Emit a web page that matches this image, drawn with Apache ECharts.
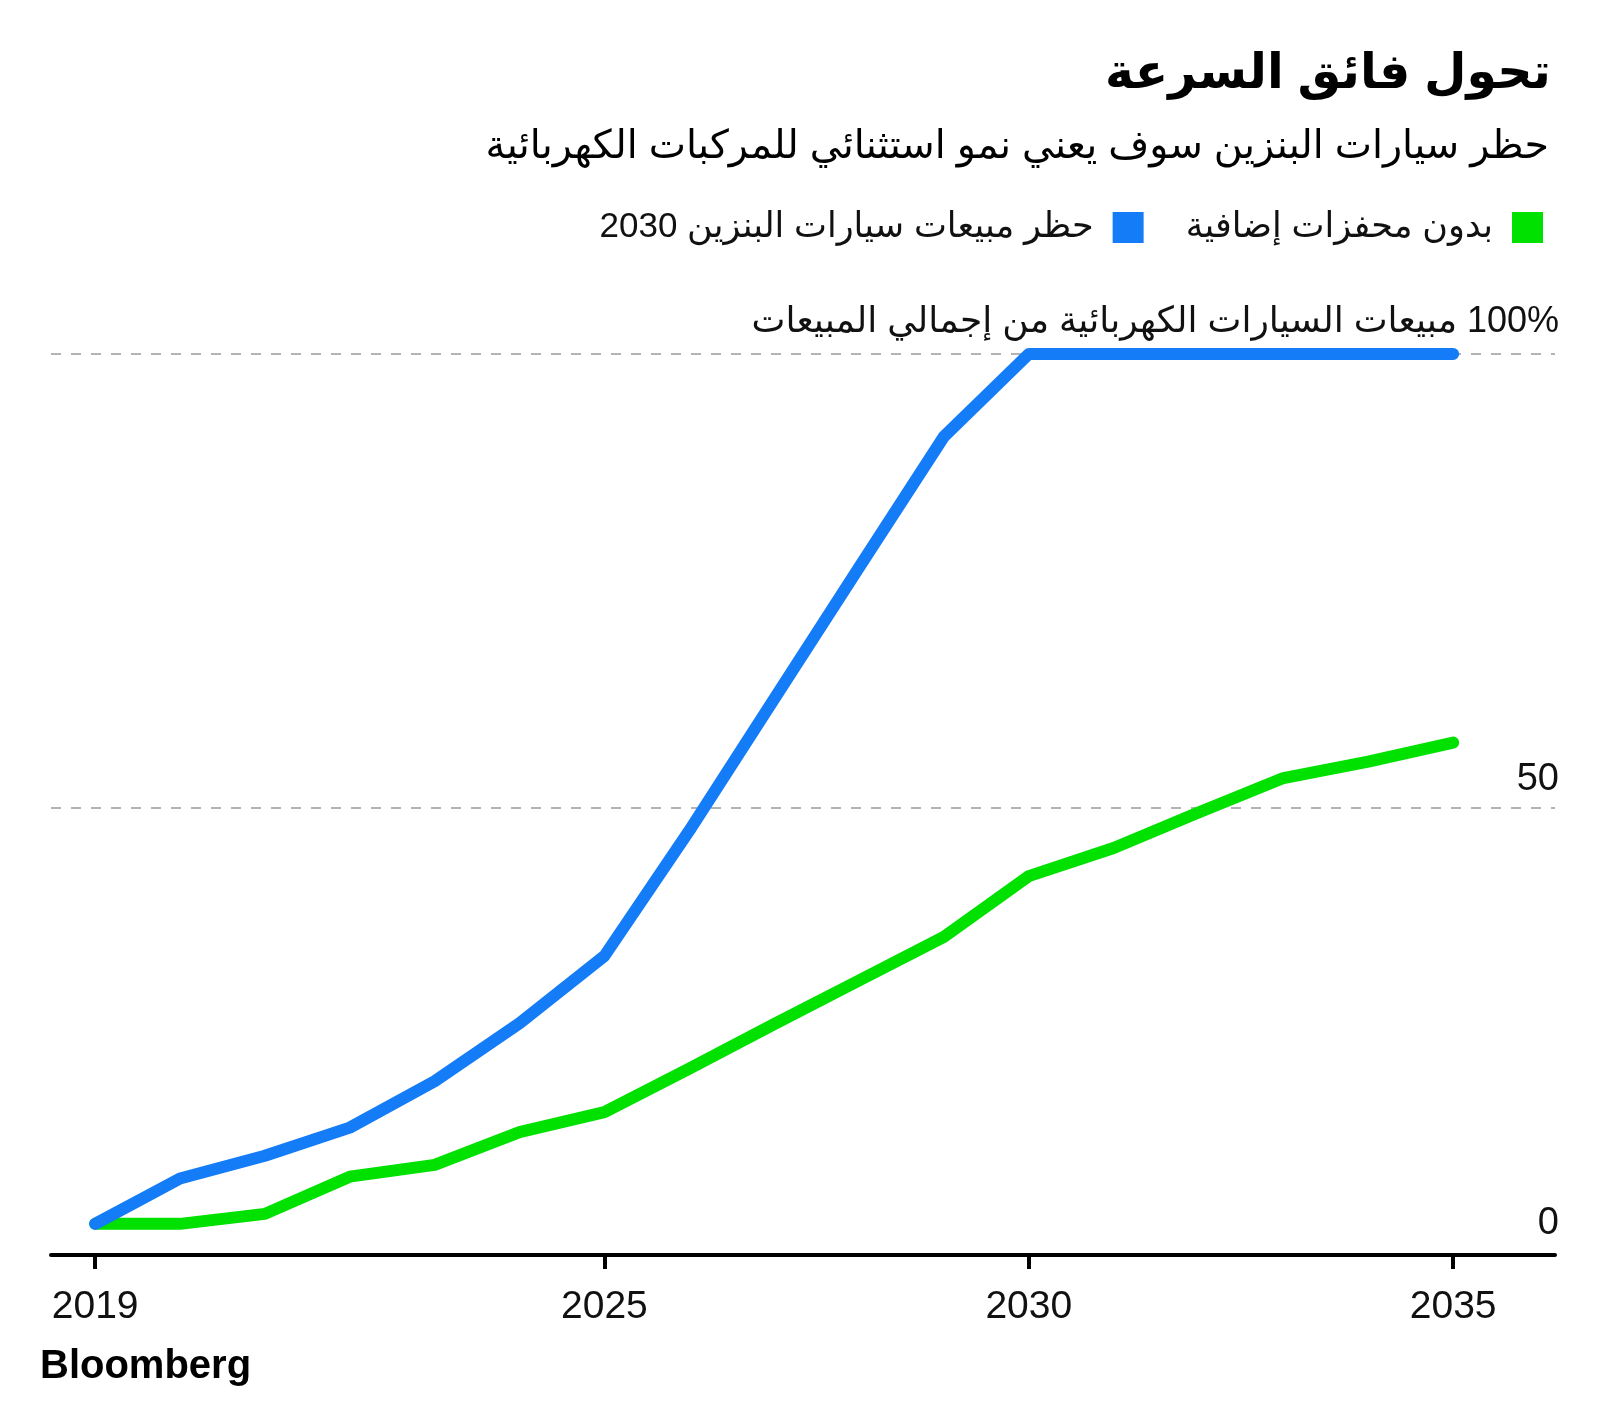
<!DOCTYPE html>
<html>
<head>
<meta charset="utf-8">
<script src="https://cdn.jsdelivr.net/npm/echarts@6/dist/echarts.min.js"></script>
<style>
  html, body { margin: 0; padding: 0; background: #ffffff; }
  #chart { width: 1600px; height: 1406px; direction: rtl; }
</style>
</head>
<body>
<div id="chart" dir="rtl"></div>
<script>
// ---- Data ----
const years = [2019, 2020, 2021, 2022, 2023, 2024, 2025, 2026, 2027, 2028, 2029, 2030, 2031, 2032, 2033, 2034, 2035];
const ban2030 = [4.2, 9.2, 11.7, 14.8, 19.9, 26.3, 33.7, 47.5, 62.0, 76.5, 90.9, 100, 100, 100, 100, 100, 100];
const noIncentives = [4.2, 4.2, 5.3, 9.4, 10.7, 14.3, 16.5, 21.3, 26.2, 31.0, 35.8, 42.5, 45.6, 49.5, 53.3, 55.1, 57.2];
const xTickYears = [2019, 2025, 2030, 2035];
const seriesNames = ['حظر مبيعات سيارات البنزين 2030', 'بدون محفزات إضافية'];
const titleText = 'تحول فائق السرعة';
const subtitleText = 'حظر سيارات البنزين سوف يعني نمو استثنائي للمركبات الكهربائية';
const yUnitText = '100% مبيعات السيارات الكهربائية من إجمالي المبيعات';
const sourceText = 'Bloomberg';

const FONT = '"Liberation Sans", "DejaVu Sans", sans-serif';
const BLUE = '#157cf8';
const GREEN = '#00e100';

const chart = echarts.init(document.getElementById('chart'), null, { renderer: 'canvas' });

const pairs = (vals) => years.map((y, i) => [y, vals[i]]);

chart.setOption({
  animation: false,
  backgroundColor: '#ffffff',
  grid: { left: 51, right: 45, top: 354, bottom: 144, containLabel: false },
  graphic: [
    { type: 'text', x: 1551, y: 74, style: { text: titleText, fill: '#000', font: 'bold 49px ' + FONT, align: 'right', verticalAlign: 'middle' } },
    { type: 'text', x: 1549, y: 147, style: { text: subtitleText, fill: '#000', font: '39.6px ' + FONT, align: 'right', verticalAlign: 'middle' } },
    { type: 'text', x: 40, y: 1367, style: { text: sourceText, fill: '#000', font: 'bold 40px ' + FONT, align: 'left', verticalAlign: 'middle' } }
  ],
  legend: {
    data: [seriesNames[0], seriesNames[1]],
    right: 52,
    top: 205,
    align: 'right',
    icon: 'rect',
    itemWidth: 31,
    itemHeight: 31,
    itemGap: 42,
    selectedMode: false,
    textStyle: { fontSize: 35, color: '#111', fontFamily: FONT, padding: [0, 14, 0, 0] }
  },
  xAxis: {
    type: 'value',
    min: 2018.48,
    max: 2036.2,
    offset: -7,
    splitLine: { show: false },
    axisLine: { show: true, onZero: false, lineStyle: { color: '#000', width: 4 } },
    axisTick: { show: true, customValues: xTickYears, length: 14, lineStyle: { color: '#000', width: 4 } },
    axisLabel: { customValues: xTickYears, formatter: (v) => String(v), margin: 33, fontSize: 39, color: '#111', fontFamily: FONT }
  },
  yAxis: {
    type: 'value',
    position: 'right',
    min: 0,
    max: 100,
    interval: 50,
    axisLine: { show: false },
    axisTick: { show: false },
    splitLine: { show: true, showMinLine: false, lineStyle: { color: '#9a9a9a', width: 1.5, type: [10, 10] } },
    axisLabel: {
      inside: true,
      margin: -4,
      verticalAlign: 'bottom',
      align: 'right',
      fontSize: 38,
      color: '#111',
      fontFamily: FONT,
      formatter: (v) => {
        if (v === 0) return '{z|0}';
        if (v === 100) return '{h|' + yUnitText + '}';
        return '{m|' + v + '}';
      },
      rich: {
        z: { fontSize: 38, fontFamily: FONT, color: '#111', padding: [0, 0, 19, 0] },
        m: { fontSize: 38, fontFamily: FONT, color: '#111', padding: [0, 0, 9, 0] },
        h: { fontSize: 36, fontFamily: FONT, color: '#111', padding: [0, 0, 14, 0] }
      }
    }
  },
  series: [
    {
      name: seriesNames[1],
      type: 'line',
      data: pairs(noIncentives),
      showSymbol: false,
      symbol: 'none',
      color: GREEN,
      lineStyle: { color: GREEN, width: 12, cap: 'round', join: 'round' },
      z: 2
    },
    {
      name: seriesNames[0],
      type: 'line',
      data: pairs(ban2030),
      showSymbol: false,
      symbol: 'none',
      color: BLUE,
      lineStyle: { color: BLUE, width: 12, cap: 'round', join: 'round' },
      z: 3
    }
  ]
});
</script>
</body>
</html>
